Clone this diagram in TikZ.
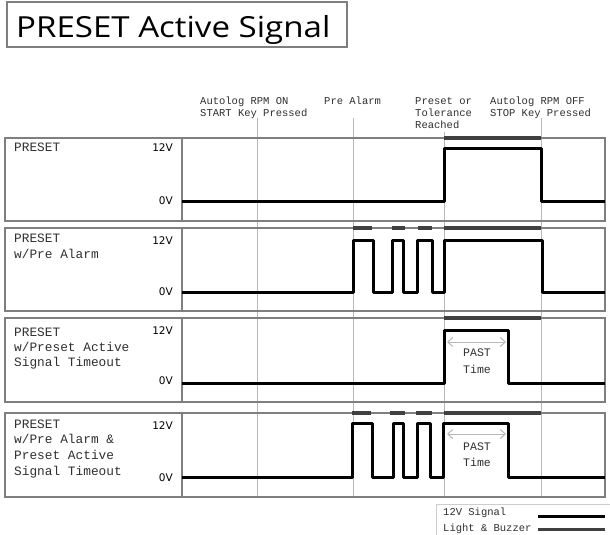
\documentclass[tikz,border=0pt]{standalone}
\usepackage{fontspec}
\setmainfont{Liberation Mono}
\newfontfamily\titlefont{Open Sans}
\newfontfamily\segfont{DejaVu Sans}
\usetikzlibrary{arrows.meta}
\definecolor{border}{HTML}{7F7F7F}
\definecolor{guide}{HTML}{B8B8B8}
\definecolor{bar}{HTML}{404040}
\definecolor{txt}{HTML}{303030}
\begin{document}
\begin{tikzpicture}[x=1pt,y=-1pt,
  panelbox/.style={draw=border,line width=1.6pt},
  guideline/.style={draw=guide,line width=1pt},
  sig/.style={draw=black,line width=3pt,line join=round},
  lightbar/.style={draw=bar,line width=3.2pt},
  plabel/.style={anchor=base west,inner sep=0pt,text=txt,font=\fontsize{12.8}{15}\selectfont},
  toplabel/.style={anchor=base west,inner sep=0pt,text=txt,font=\fontsize{10.5}{12}\selectfont},
  volt/.style={anchor=east,inner sep=0pt,text=black,font=\segfont\fontsize{10.5}{12}\selectfont},
  pastlabel/.style={anchor=center,inner sep=0pt,text=txt,font=\fontsize{11.5}{13}\selectfont},
  pastarrow/.style={draw=guide,line width=1pt,{Straight Barb[length=5pt,width=9pt]}-{Straight Barb[length=5pt,width=9pt]}}
]
\useasboundingbox (0,0) rectangle (610,535);
\fill[white] (0,0) rectangle (610,535);

% title
\draw[draw=border,line width=1.6pt] (7,2) rectangle (347,47);
\node[anchor=base west,inner sep=0pt,font=\titlefont\fontsize{29}{34}\selectfont] (title) at (16,37.5) {\scalebox{1.14}[1]{PRESET Active Signal}};

% top labels
\node[toplabel] (t1a) at (200,104) {Autolog RPM ON};
\node[toplabel] (t1b) at (200,116) {START Key Pressed};
\node[toplabel] (t2a) at (324,104) {Pre Alarm};
\node[toplabel] (t3a) at (415,104) {Preset or};
\node[toplabel] (t3b) at (415,116) {Tolerance};
\node[toplabel] (t3c) at (415,128) {Reached};
\node[toplabel] (t4a) at (490,104) {Autolog RPM OFF};
\node[toplabel] (t4b) at (490,116) {STOP Key Pressed};

% guide lines
\coordinate (g1t) at (257,118); \coordinate (g1b) at (257,497);
\coordinate (g2t) at (353,118); \coordinate (g2b) at (353,497);
\coordinate (g3t) at (444,132); \coordinate (g3b) at (444,497);
\coordinate (g4t) at (541,118); \coordinate (g4b) at (541,497);
\draw[guideline] (g1t) -- (g1b);
\draw[guideline] (g2t) -- (g2b);
\draw[guideline] (g3t) -- (g3b);
\draw[guideline] (g4t) -- (g4b);

% panels
\foreach \t/\b in {138/221,228/311,318/402,413/497}{
  \draw[panelbox] (5,\t) rectangle (605,\b);
  \draw[panelbox] (182,\t) -- (182,\b);
}

% panel labels
\node[plabel] (p1a) at (14,151) {PRESET};
\node[plabel] (p2a) at (14,242) {PRESET};
\node[plabel] (p2b) at (14,258) {w/Pre Alarm};
\node[plabel] (p3a) at (14,336) {PRESET};
\node[plabel] (p3b) at (14,351) {w/Preset Active};
\node[plabel] (p3c) at (14,366) {Signal Timeout};
\node[plabel] (p4a) at (14,428) {PRESET};
\node[plabel] (p4b) at (14,443) {w/Pre Alarm \&};
\node[plabel] (p4c) at (14,459) {Preset Active};
\node[plabel] (p4d) at (14,475) {Signal Timeout};

% voltage labels
\node[volt] (v1h) at (173,148) {12V};
\node[volt] (v1l) at (173,201) {0V};
\node[volt] (v2h) at (173,241) {12V};
\node[volt] (v2l) at (173,292) {0V};
\node[volt] (v3h) at (173,331) {12V};
\node[volt] (v3l) at (173,381) {0V};
\node[volt] (v4h) at (173,426) {12V};
\node[volt] (v4l) at (173,478) {0V};

% light bars
\draw[lightbar] (444,138) -- (541,138);
\draw[lightbar] (353,228) -- (372,228);
\draw[lightbar] (392,228) -- (405,228);
\draw[lightbar] (418,228) -- (432,228);
\draw[lightbar] (444,228) -- (541,228);
\draw[lightbar] (444,318) -- (541,318);
\draw[lightbar] (352,413) -- (371,413);
\draw[lightbar] (390,413) -- (405,413);
\draw[lightbar] (416,413) -- (432,413);
\draw[lightbar] (444,413) -- (541,413);

% signals
\draw[sig] (182,201.5) -| (444,148) -| (541,201.5) -- (605,201.5);
\draw[sig] (182,292) -| (353,240) -| (373,292) -| (392,240) -| (403,292) -| (417,240) -| (432,292) -| (444,240) -| (542,292) -- (605,292);
\draw[sig] (182,383) -| (444,330) -| (508,383) -- (605,383);
\draw[sig] (182,477) -| (352,423) -| (372,477) -| (393,423) -| (403,477) -| (417,423) -| (430,477) -| (443,423) -| (508,477) -- (605,477);

% PAST time
\coordinate (a3l) at (447,342); \coordinate (a3r) at (506,342);
\draw[pastarrow] (a3l) -- (a3r);
\node[pastlabel] (past3) at (477,353) {PAST};
\node[pastlabel] (time3) at (477,369) {Time};
\coordinate (a4l) at (447,434); \coordinate (a4r) at (506,434);
\draw[pastarrow] (a4l) -- (a4r);
\node[pastlabel] (past4) at (477,447) {PAST};
\node[pastlabel] (time4) at (477,462) {Time};

% legend
\draw[draw=guide!70,line width=1pt] (436,540) -- (436,504) -- (615,504);
\node[toplabel] (leg1) at (443,515.5) {12V Signal};
\node[toplabel] (leg2) at (443,531.5) {Light \& Buzzer};
\draw[draw=black,line width=3pt] (538,516) -- (605,516);
\draw[draw=bar,line width=3pt] (538,529) -- (605,529);
\end{tikzpicture}
\end{document}
